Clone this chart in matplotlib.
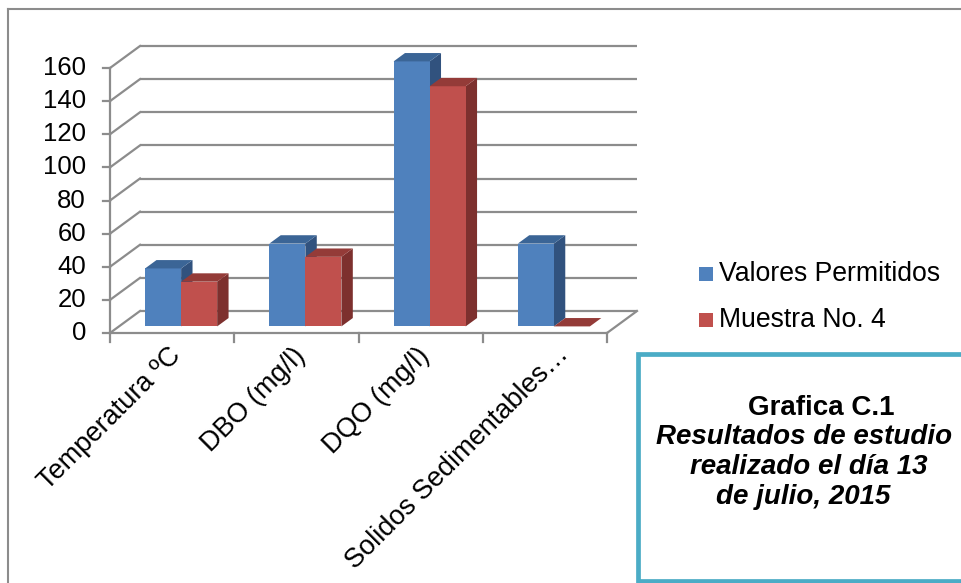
import matplotlib
matplotlib.use("Agg")
import matplotlib.pyplot as plt
from matplotlib.patches import Polygon, Rectangle

# ---- data ----
categories = ["Temperatura ºC", "DBO (mg/l)", "DQO (mg/l)", "Solidos Sedimentables…"]
series_names = ["Valores Permitidos", "Muestra No. 4"]
valores_permitidos = [35, 50, 160, 50]
muestra_4 = [27, 42, 145, 0]
y_ticks = [0, 20, 40, 60, 80, 100, 120, 140, 160]

# ---- style ----
FONT = "Liberation Sans"
GRID = "#8c8c8c"
face_cols = ["#4F81BD", "#C0504D"]
top_cols = ["#3B6596", "#943B38"]
side_cols = ["#31527E", "#7D302E"]

W, H = 961, 583
fig = plt.figure(figsize=(W / 100, H / 100), dpi=100)
ax = fig.add_axes([0, 0, 1, 1])
ax.set_axis_off()

# data-space layout (category units horizontally, value units vertically)
px_x = 124.25       # pixels per category
px_y = 1.65625      # pixels per value unit
x0_px, y0_px = 110, 333
ax.set_xlim(0.5 - x0_px / px_x, 0.5 + (W - x0_px) / px_x)
ax.set_ylim(-(H - y0_px) / px_y, y0_px / px_y)

# oblique depth offset of the floor (in data units per unit of depth)
DX = 30 / px_x
DY = 22 / px_y


def P(x, v, d):
    return (x + d * DX, v + d * DY)


n = len(categories)
xl, xr = 0.5, n + 0.5
lw = 1.6

# back wall gridlines and side wall diagonals
for v in y_ticks:
    a, b = P(xl, v, 1), P(xr, v, 1)
    ax.plot([a[0], b[0]], [a[1], b[1]], color=GRID, lw=lw, solid_capstyle="butt")
    a, b = P(xl, v, 0), P(xl, v, 1)
    ax.plot([a[0], b[0]], [a[1], b[1]], color=GRID, lw=lw)

# floor front and right edges
ax.plot([xl, xr], [0, 0], color=GRID, lw=lw)
a, b = P(xr, 0, 0), P(xr, 0, 1)
ax.plot([a[0], b[0]], [a[1], b[1]], color=GRID, lw=lw)

# front value axis with ticks and labels
ax.plot([xl, xl], [0, y_ticks[-1]], color=GRID, lw=lw)
for v in y_ticks:
    ax.plot([xl - 7 / px_x, xl], [v, v], color=GRID, lw=lw)
    ax.text(xl - 24 / px_x, v, str(v), ha="right", va="center",
            fontsize=18.5, family=FONT, color="black")

# category ticks and labels
for k in range(n + 1):
    ax.plot([xl + k, xl + k], [0, -9 / px_y], color=GRID, lw=lw)
label_dx = [-4, -4, -4, 11]
label_dy = [-10, -10, -10, -8]
for i, lab in enumerate(categories):
    c = i + 1
    ax.text(c + label_dx[i] / px_x, label_dy[i] / px_y, lab, rotation=45,
            rotation_mode="anchor", ha="right", va="top", fontsize=19.5,
            family=FONT, color="black")

# pseudo-3D columns
bw = 0.29
d0, d1 = 0.3, 0.68
for s, vals in enumerate([valores_permitidos, muestra_4]):
    for i, v in enumerate(vals):
        c = i + 1
        x_a = c - bw + s * bw
        x_b = x_a + bw
        front = [P(x_a, 0, d0), P(x_b, 0, d0), P(x_b, v, d0), P(x_a, v, d0)]
        top = [P(x_a, v, d0), P(x_b, v, d0), P(x_b, v, d1), P(x_a, v, d1)]
        side = [P(x_b, 0, d0), P(x_b, 0, d1), P(x_b, v, d1), P(x_b, v, d0)]
        if v > 0:
            ax.add_patch(Polygon(side, closed=True, fc=side_cols[s], ec="none", zorder=3 + s))
            ax.add_patch(Polygon(front, closed=True, fc=face_cols[s], ec="none", zorder=3 + s))
        ax.add_patch(Polygon(top, closed=True, fc=top_cols[s], ec="none", zorder=3 + s))

# legend
for s, name in enumerate(series_names):
    cy = 274 + s * 46
    fig.patches.append(Rectangle((699 / W, 1 - (cy + 7) / H), 14 / W, 14 / H,
                                 transform=fig.transFigure, fc=face_cols[s], ec="none"))
    fig.text(719 / W, 1 - cy / H, name, ha="left", va="center",
             fontsize=19.2, family=FONT, color="black")

# outer chart frame
fig.add_artist(plt.Line2D([8 / W, 8 / W], [0, 1 - 9 / H], transform=fig.transFigure,
                          color=GRID, lw=1.5))
fig.add_artist(plt.Line2D([8 / W, 1], [1 - 9 / H, 1 - 9 / H], transform=fig.transFigure,
                          color=GRID, lw=1.5))

# caption box
fig.patches.append(Rectangle((638 / W, 1 - 581 / H), 340 / W, 227 / H,
                             transform=fig.transFigure, fc="white", ec="#4BACC6", lw=3.4))
fig.text(821 / W, 1 - 408 / H, "Grafica C.1", ha="center", va="center",
         fontsize=20, fontweight="bold", family=FONT)
caption = ["Resultados de estudio", "realizado el día 13", "de julio, 2015"]
for j, line in enumerate(caption):
    fig.text([804, 809, 803][j] / W, 1 - (437 + 30 * j) / H, line, ha="center", va="center",
             fontsize=20, fontweight="bold", fontstyle="italic", family=FONT)

fig.savefig("out.png", dpi=100)
